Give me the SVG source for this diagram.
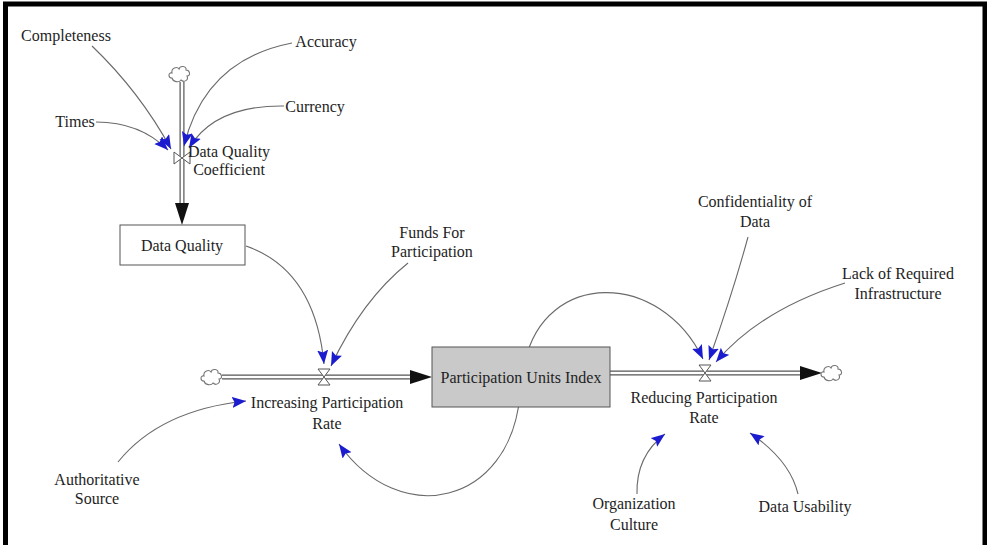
<svg xmlns="http://www.w3.org/2000/svg" xmlns:xlink="http://www.w3.org/1999/xlink" width="987" height="545" viewBox="0 0 987 545">
<style>
text{font-family:"Liberation Serif","Times New Roman",serif;font-size:16px;fill:#1e1e1e;text-anchor:middle}
.link{fill:none;stroke:#6a6a6a;stroke-width:1.1;marker-end:url(#blue)}
.pipeO{fill:none;stroke:#555;stroke-width:5}
.pipeI{fill:none;stroke:#fff;stroke-width:2.6}
.valve{fill:#fff;stroke:#555;stroke-width:1}
.cloud{fill:#fff;stroke:#777;stroke-width:1.1}
</style>
<defs>
<marker id="blue" markerUnits="userSpaceOnUse" markerWidth="16" markerHeight="12" refX="14" refY="5.5" orient="auto">
<path d="M0,0 L14,5.5 L0,11 L2.5,5.5 z" fill="#1c1ccf"/>
</marker>
<path id="cl" d="M -8,4 C -12,4 -12,-2 -8,-1 C -9,-6 -3,-8 -1,-5 C 0,-9 7,-8 6,-4 C 10,-4 11,2 7,2 C 9,6 4,9 1,6 C -1,9 -7,8 -8,4 Z"/>
</defs>
<rect width="987" height="545" fill="#fff"/>
<g id="frame" fill="none" stroke="#000" stroke-width="5">
<path d="M5.5,545 V4 H985 V545"/>
</g>
<g id="flows">
<path class="pipeO" d="M182,82 V206"/><path class="pipeI" d="M182,82 V207"/>
<path d="M182,225 L175,203 L189,203 z" fill="#111"/>
<path class="pipeO" d="M222,377 H412"/><path class="pipeI" d="M221,377 H413"/>
<path d="M432,377 L410,370 L410,384 z" fill="#111"/>
<path class="pipeO" d="M610,373 H802"/><path class="pipeI" d="M609,373 H803"/>
<path d="M822,373 L800,366 L800,380 z" fill="#111"/>
</g>
<g id="connectors">
<path class="link" d="M92,46 Q140,92 171,149"/>
<path class="link" d="M292,43 Q205,60 184,146"/>
<path class="link" d="M284,106 Q215,105 189,148"/>
<path class="link" d="M96,122 Q140,122 168,150"/>
<path class="link" d="M246,246 Q315,270 324,364"/>
<path class="link" d="M408,263 Q362,300 331,366"/>
<path class="link" d="M118,462 Q160,410 246,401"/>
<path class="link" d="M520,395 C510,505 400,530 339,444"/>
<path class="link" d="M525,362 C545,270 660,270 703,359"/>
<path class="link" d="M748,237 Q733,292 709,360"/>
<path class="link" d="M845,283 Q760,310 716,362"/>
<path class="link" d="M637,494 Q636,456 665,434"/>
<path class="link" d="M798,494 Q790,460 750,433"/>
</g>
<g id="cloud-top"><use href="#cl" class="cloud" x="180" y="74"/></g>
<g id="cloud-in"><use href="#cl" class="cloud" x="212" y="377"/></g>
<g id="cloud-out"><use href="#cl" class="cloud" x="832" y="373"/></g>
<g id="data-quality-coefficient">
<path class="valve" d="M174,152 L182,158 L174,164 z M190,152 L182,158 L190,164 z"/>
<text x="229" y="157">Data Quality</text>
<text x="229" y="175">Coefficient</text>
</g>
<g id="data-quality">
<rect x="120" y="225" width="125" height="40" fill="#fff" stroke="#555" stroke-width="1"/>
<text x="182" y="251">Data Quality</text>
</g>
<g id="participation-units-index">
<rect x="432" y="347" width="178" height="60" fill="#c9c9c9" stroke="#555" stroke-width="1"/>
<text x="521" y="383">Participation Units Index</text>
</g>
<g id="increasing-participation-rate">
<path class="valve" d="M318,369 L330,369 L324,377 z M318,385 L330,385 L324,377 z"/>
<text x="327" y="408">Increasing Participation</text>
<text x="327" y="429">Rate</text>
</g>
<g id="reducing-participation-rate">
<path class="valve" d="M699,365 L711,365 L705,373 z M699,381 L711,381 L705,373 z"/>
<text x="704" y="403">Reducing Participation</text>
<text x="704" y="423">Rate</text>
</g>
<g id="completeness"><text x="66" y="41">Completeness</text></g>
<g id="accuracy"><text x="326" y="47">Accuracy</text></g>
<g id="currency"><text x="315" y="112">Currency</text></g>
<g id="times"><text x="75" y="127">Times</text></g>
<g id="funds-for-participation"><text x="432" y="238">Funds For</text><text x="432" y="257">Participation</text></g>
<g id="confidentiality-of-data"><text x="755" y="207">Confidentiality of</text><text x="755" y="227">Data</text></g>
<g id="lack-of-required-infrastructure"><text x="898" y="279">Lack of Required</text><text x="898" y="299">Infrastructure</text></g>
<g id="authoritative-source"><text x="97" y="485">Authoritative</text><text x="97" y="504">Source</text></g>
<g id="organization-culture"><text x="634" y="509">Organization</text><text x="634" y="530">Culture</text></g>
<g id="data-usability"><text x="805" y="512">Data Usability</text></g>
</svg>
